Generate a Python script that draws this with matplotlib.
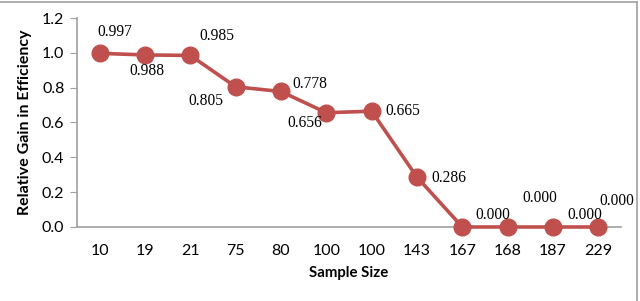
import matplotlib
matplotlib.use("Agg")
import matplotlib.pyplot as plt
from matplotlib.lines import Line2D

sample_sizes = ["10", "19", "21", "75", "80", "100", "100", "143", "167", "168", "187", "229"]
gain = [0.997, 0.988, 0.985, 0.805, 0.778, 0.656, 0.665, 0.286, 0.000, 0.000, 0.000, 0.000]
label_offsets = [(15, 21), (2, -16), (27, 19), (-30, -14), (29, 7), (-22, -10),
                 (31, 0), (32, -1), (30, 12), (32, 29), (32, 12), (18, 26)]
yticks = [0.0, 0.2, 0.4, 0.6, 0.8, 1.0, 1.2]

fig = plt.figure(figsize=(6.4, 3.01), dpi=100)
ax = fig.add_axes([77/640, 1-227/301, 544/640, 209/301])

color = "#C0504D"
x = list(range(len(gain)))
ax.plot(x, gain, color=color, lw=2.6, marker="o", markersize=12, zorder=3, clip_on=False)

for xi, v, (dx, dy) in zip(x, gain, label_offsets):
    ax.annotate(f"{v:.3f}", (xi, v), xytext=(dx, dy), textcoords="offset pixels",
                ha="center", va="center", fontsize=11.2, family="Liberation Serif")

ax.set_xlim(-0.5, len(gain) - 0.5)
ax.set_ylim(0, 1.2)
ax.set_yticks(yticks)
ax.set_yticklabels([f"{t:.1f}" for t in yticks], family="Lato", fontsize=11.5)
ax.set_xticks(x)
ax.set_xticklabels(sample_sizes, family="Lato", fontsize=11.5)
ax.tick_params(axis="x", length=0, pad=12)
ax.tick_params(axis="y", length=5, color="#A0A0A0", pad=4, direction="out")

for s in ["top", "right"]:
    ax.spines[s].set_visible(False)
for s in ["left", "bottom"]:
    ax.spines[s].set_color("#A0A0A0")
    ax.spines[s].set_linewidth(1.2)

ax.set_xlabel("Sample Size", family="Lato", fontweight="bold", fontsize=10.8, labelpad=6)
ax.set_ylabel("Relative Gain in Efficiency", family="Lato", fontweight="bold", fontsize=11.5, labelpad=7)

# figure border (top and right)
fig.add_artist(Line2D([0, 637/640], [1-1.5/301, 1-1.5/301], color="#A0A0A0", lw=1.2, transform=fig.transFigure))
fig.add_artist(Line2D([637/640, 637/640], [0, 1-1.5/301], color="#A0A0A0", lw=1.2, transform=fig.transFigure))

fig.savefig("out.png", dpi=100)
